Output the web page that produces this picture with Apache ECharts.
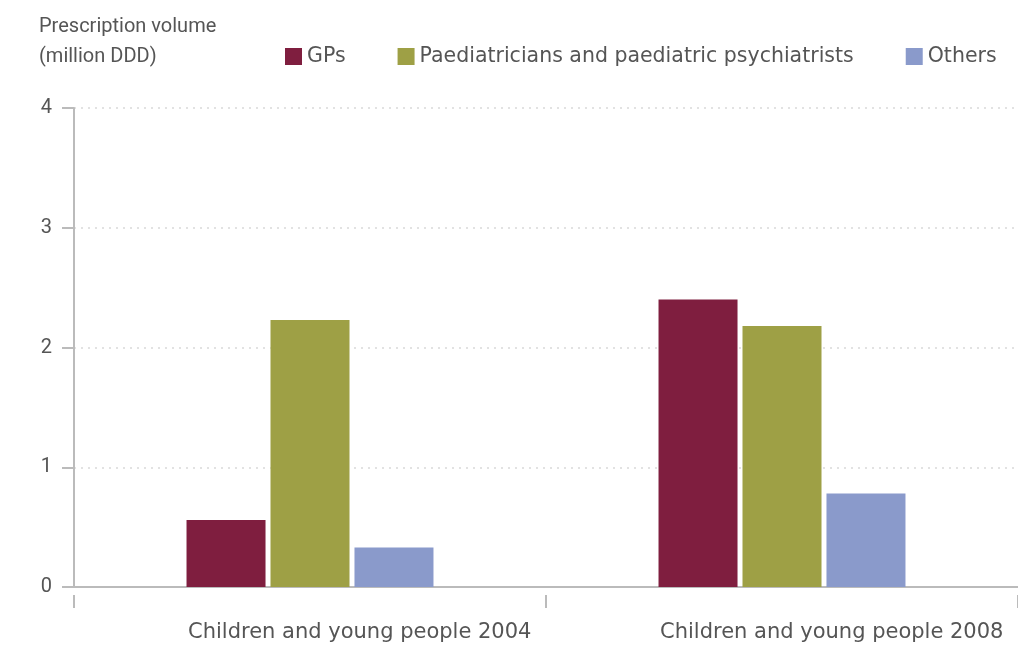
<!DOCTYPE html>
<html>
<head>
<meta charset="utf-8">
<script src="https://cdn.jsdelivr.net/npm/echarts@6/dist/echarts.min.js"></script>
<style>
  html, body { margin: 0; padding: 0; background: #fff; }
  #chart { width: 1018px; height: 645px; }
</style>
</head>
<body>
<div id="chart"></div>
<script>
const categories = ['Children and young people 2004', 'Children and young people 2008']
const gps = [0.56, 2.40]
const paediatricians = [2.23, 2.18]
const others = [0.33, 0.78]
const yTicks = [0, 1, 2, 3, 4]

const chart = echarts.init(document.getElementById('chart'))
const textColor = '#555'
const font = 'Roboto'
const wideFont = 'DejaVu Sans'

const option = {
  animation: false,
  grid: {
    left: 74,
    top: 108,
    right: 0,
    bottom: 58,
  },
  legend: {
    left: 280,
    top: 41,
    itemWidth: 17,
    itemHeight: 17,
    itemGap: 52,
    icon: 'rect',
    textStyle: {
      color: textColor,
      fontFamily: wideFont,
      fontSize: 20.5,
      padding: [0, 0, 0, 0],
    },
    data: ['GPs', 'Paediatricians and paediatric psychiatrists', 'Others'],
  },
  xAxis: [
    {
      type: 'category',
      data: categories,
      axisLine: {
        lineStyle: { color: '#bbb', width: 2 },
      },
      axisTick: { show: false },
      axisLabel: {
        color: textColor,
        fontFamily: wideFont,
        fontSize: 21,
        margin: 35,
        align: 'left',
        padding: [0, 0, 0, -122],
      },
    },
    {
      // separate tick row below the axis line
      type: 'category',
      data: categories,
      position: 'bottom',
      offset: 8,
      axisLine: { show: false },
      axisTick: {
        show: true,
        length: 13,
        lineStyle: { color: '#bbb', width: 2 },
      },
      axisLabel: { show: false },
    },
  ],
  yAxis: {
    type: 'value',
    min: yTicks[0],
    max: yTicks[yTicks.length - 1],
    interval: 1,
    name: 'Prescription volume\n(million DDD)',
    nameLocation: 'end',
    nameGap: 36,
    nameTextStyle: {
      color: textColor,
      fontFamily: font,
      fontSize: 20,
      lineHeight: 30,
      align: 'left',
      verticalAlign: 'bottom',
      padding: [0, 0, 0, -35],
    },
    axisLine: {
      show: true,
      lineStyle: { color: '#bbb', width: 2 },
    },
    axisTick: {
      show: true,
      length: 12,
      lineStyle: { color: '#bbb', width: 2 },
    },
    axisLabel: {
      color: textColor,
      fontFamily: font,
      fontSize: 20,
      margin: 22,
    },
    splitLine: {
      show: true,
      lineStyle: { color: '#e2e2e2', type: [2, 5], width: 2 },
    },
  },
  series: [
    {
      name: 'GPs',
      type: 'bar',
      data: gps,
      barWidth: 79,
      barGap: '6.3%',
      itemStyle: { color: '#7f1e3f' },
    },
    {
      name: 'Paediatricians and paediatric psychiatrists',
      type: 'bar',
      data: paediatricians,
      barWidth: 79,
      barGap: '6.3%',
      itemStyle: { color: '#9ea045' },
    },
    {
      name: 'Others',
      type: 'bar',
      data: others,
      barWidth: 79,
      barGap: '6.3%',
      itemStyle: { color: '#8a9acb' },
    },
  ],
}

option && chart.setOption(option)
</script>
</body>
</html>
